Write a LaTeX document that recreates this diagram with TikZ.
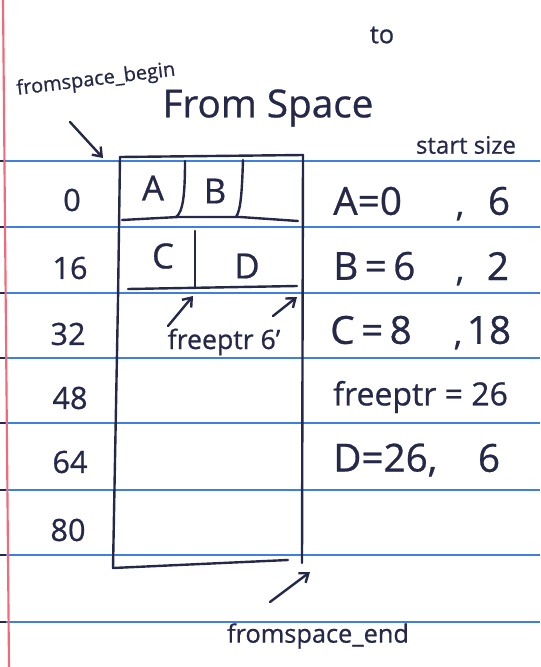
\documentclass[tikz,border=0pt]{standalone}
\usepackage{fontspec}
\setmainfont{Open Sans}[FakeBold=0.7]
\usetikzlibrary{arrows.meta}
\definecolor{ink}{HTML}{262848}
\definecolor{ruled}{HTML}{3F7FE0}
\definecolor{margin}{HTML}{F26A7A}
\newcommand{\fs}[1]{\fontsize{#1}{#1}\selectfont}

\begin{document}
\begin{tikzpicture}[x=0.75pt,y=-0.75pt,
  pen/.style={draw=ink,line width=1.8pt,line cap=round,line join=round},
  arr/.style={pen,-{Straight Barb[length=6pt,width=9pt]}},
  txt/.style={text=ink,inner sep=0pt},
  huge/.style={txt,font=\fs{29}},
  big/.style={txt,font=\fs{26}},
  num/.style={txt,font=\fs{23}},
  small/.style={txt,font=\fs{15}},
  comma/.style={txt,font=\fs{26},anchor=base}]

% paper
\useasboundingbox (0,0) rectangle (540,667);
\fill[white] (0,0) rectangle (540,667);

% ruled lines with punch ticks at the left edge
\foreach \y in {161,227,293,358,423,490,555,622} {
  \draw[ruled,line width=1.3pt] (0,\y) -- (540,\y);
  \draw[ink,line width=1.2pt] (0,\y) -- (6,\y);
}
% margin line
\draw[margin,line width=1.6pt] (3,0) -- (9,667);

% heading texts
\node[small,font=\fs{19}] (to) at (382,35) {to};
\node[small,rotate=7] (fsbegin) at (96,80) {fromspace\_begin};
\node[huge] (title) at (268,108) {From Space};
\node[small,font=\fs{18}] (startsize) at (466,145) {start size};

% from-space block outline
\draw[pen] (120,157) -- (303,155) -- (302,563);
\draw[pen] (120,157) -- (118,300) -- (115,460) -- (113,568) -- (288,560);
% row 0 cells
\draw[pen] (122,220) -- (178,217) -- (240,217) -- (298,221);
\draw[pen] (185,161) .. controls (185,195) and (183,212) .. (176,217);
\draw[pen] (243,160) .. controls (242,190) and (241,210) .. (236,217);
% row 1 cells
\draw[pen] (128,289) -- (297,286);
\draw[pen] (195,231) -- (195,287);

% cell labels
\node[big] (A) at (153,188) {A};
\node[big] (B) at (215,191) {B};
\node[big] (C) at (163,256) {C};
\node[big] (D) at (247,266) {D};

% pointers
\coordinate (fp1) at (193,296);
\coordinate (fp2) at (297,297);
\coordinate (fpt1) at (168,326);
\coordinate (fpt2) at (273,316);
\node[small,font=\fs{20}] (freeptr) at (224,342) {freeptr 6'};
\draw[arr] (fpt1) -- (fp1);
\draw[arr] (fpt2) -- (fp2);

\coordinate (beginhead) at (103,158);
\coordinate (begintail) at (70,122);
\draw[arr] (begintail) -- (beginhead);

\coordinate (endhead) at (310,572);
\coordinate (endtail) at (270,602);
\node[small,font=\fs{19}] (fsend) at (318,636) {fromspace\_end};
\draw[arr] (endtail) -- (endhead);

% offsets
\node[num] (o0) at (72,200) {0};
\node[num] (o16) at (70,268) {16};
\node[num] (o32) at (68,334) {32};
\node[num] (o48) at (70,398) {48};
\node[num] (o64) at (70,462) {64};
\node[num] (o80) at (68,530) {80};

% allocation table
\node[huge,anchor=west] (ra) at (333,201) {A=0};
\node[comma] (ca) at (460,216) {,};
\node[huge] (sa) at (499,201) {6};
\node[huge,anchor=west] (rb) at (333,266) {B\,=\,6};
\node[comma] (cb) at (460,281) {,};
\node[huge] (sb) at (498,266) {2};
\node[huge,anchor=west] (rc) at (330,330) {C\,=\,8};
\node[comma] (cc) at (458,345) {,};
\node[huge] (sc) at (489,330) {18};
\node[anchor=west,txt,font=\fs{24}] (rf) at (333,397) {freeptr = 26};
\node[huge,anchor=west] (rd) at (333,460) {D=26,};
\node[huge] (sd) at (489,458) {6};
\end{tikzpicture}
\end{document}
